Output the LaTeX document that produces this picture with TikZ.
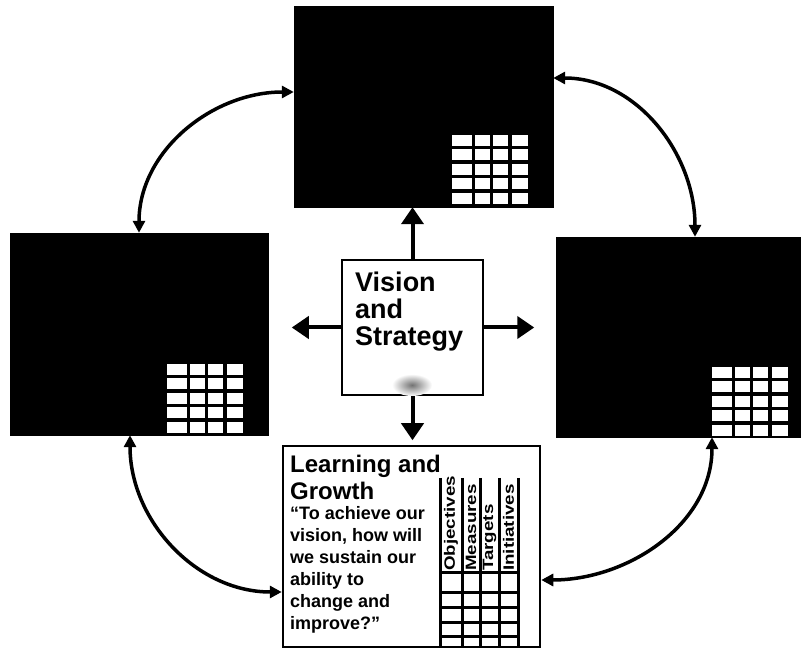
\documentclass[tikz,border=0pt]{standalone}
\usepackage{fontspec}
\setmainfont{Liberation Sans}
\usepackage{tikz}
\usetikzlibrary{arrows.meta,calc}

\tikzset{
  darkcard/.style={draw=black, fill=black, inner sep=0pt},
  visionbox/.style={draw=black, fill=white, line width=2.5pt, inner sep=0pt,
    minimum width=141pt, minimum height=135pt},
  learnbox/.style={draw=black, fill=white, line width=2.5pt, inner sep=0pt,
    minimum width=257pt, minimum height=201pt},
  hubarrow/.style={line width=4pt, -{Triangle[width=22pt,length=17pt]}},
  cyclearrow/.style={line width=3.5pt,
    {Triangle[width=12pt,length=12pt]}-{Triangle[width=12pt,length=12pt]}},
  collabel/.style={rotate=90, anchor=west, inner sep=0pt,
    font=\bfseries\fontsize{15}{15}\selectfont},
  gridline/.style={line width=3pt}
}

\begin{document}
\begin{tikzpicture}[x=1pt,y=1pt]
  \path[use as bounding box, fill=white] (0,0) rectangle (803,648);

  % the four perspectives
  \node[darkcard, minimum width=259pt, minimum height=201pt] (fin) at (423.5,541.5) {};
  \node[darkcard, minimum width=258pt, minimum height=202pt] (cust) at (139,314) {};
  \node[darkcard, minimum width=244pt, minimum height=200pt] (proc) at (678,311) {};
  \node[learnbox] (learn) at (411.5,101.5) {};
  \node[visionbox] (vision) at (412.5,320.5) {};

  % white tables in the dark cards
  \foreach \gx/\gy in {452/513, 167/284, 712/281}
    \foreach \cx/\cw in {0/20, 23/15, 41/15, 60/16}
      \foreach \ry in {0,14.5,29,43.5,58}
        \fill[white] (\gx+\cx,\gy-\ry) rectangle ++(\cw,-11);

  % smudge in the centre box
  \shade[inner color=black!55, outer color=white] (412,263) ellipse (20pt and 11pt);

  % texts
  \node[anchor=north west, inner sep=0pt, align=left,
        font=\bfseries\fontsize{27}{27}\selectfont] (visiontext) at (355,376)
        {Vision\\and\\Strategy};
  \node[anchor=north west, inner sep=0pt, align=left,
        font=\bfseries\fontsize{24}{27}\selectfont] (learntitle) at (290,193)
        {Learning and\\Growth};
  \node[anchor=north west, inner sep=0pt, align=left,
        font=\bfseries\fontsize{18}{22}\selectfont] (learntext) at (290,142)
        {“To achieve our\\vision, how will\\we sustain our\\ability to\\change and\\improve?”};

  % table of the learning card
  \foreach \vx in {440,462,480,499,518}
    \draw[gridline] (\vx,170) -- (\vx,1);
  \foreach \hy in {75,56,41,26,12}
    \draw[gridline] (440,\hy) -- (518,\hy);
  \foreach \lx/\lab in {451/Objectives, 471/Measures, 489.5/Targets, 508.5/Initiatives}
    \node[collabel] (lab-\lab) at (\lx,77) {\scalebox{1.25}[1]{\lab}};

  % arrows out of the vision box
  \coordinate (lefttip) at ([xshift=-49pt]vision.west);
  \coordinate (righttip) at ([xshift=50pt]vision.east);
  \coordinate (downtip) at ([yshift=-44pt]vision.south);
  \draw[hubarrow] (vision.north) -- (vision.north |- fin.south);
  \draw[hubarrow] (vision.west) -- (lefttip);
  \draw[hubarrow] (vision.east) -- (righttip);
  \draw[hubarrow] (vision.south) -- (downtip);

  % cycle between the perspectives
  \draw[cyclearrow] ([yshift=14.5pt]fin.west) to[out=180,in=90] (cust.north);
  \draw[cyclearrow] ([yshift=28.5pt]fin.east) to[out=0,in=90] ([xshift=17pt]proc.north);
  \draw[cyclearrow] ([xshift=-9pt]cust.south) to[out=-90,in=180] ([yshift=-45.5pt]learn.west);
  \draw[cyclearrow] ([xshift=34pt]proc.south) to[out=-90,in=0] ([yshift=-33.5pt]learn.east);
\end{tikzpicture}
\end{document}
